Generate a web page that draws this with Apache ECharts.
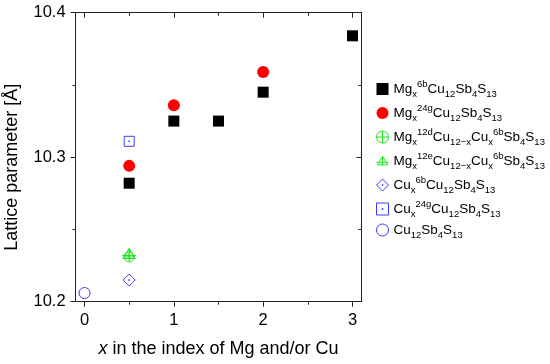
<!DOCTYPE html>
<html>
<head>
<meta charset="utf-8">
<script src="https://cdn.jsdelivr.net/npm/echarts@6/dist/echarts.min.js"></script>
<style>
html,body{margin:0;padding:0;background:#fff;}
#c{width:550px;height:364px;}
</style>
</head>
<body>
<div id="c"></div>
<script>
// Data
const mg6bX = [0.5, 1, 1.5, 2, 3];
const mg6bY = [10.282, 10.325, 10.325, 10.345, 10.384];
const mg24gX = [0.5, 1, 2];
const mg24gY = [10.294, 10.336, 10.359];
const mg12dX = [0.5];
const mg12dY = [10.231];
const mg12eX = [0.5];
const mg12eY = [10.233];
const cu6bX = [0.5];
const cu6bY = [10.215];
const cu24gX = [0.5];
const cu24gY = [10.311];
const cu12X = [0];
const cu12Y = [10.206];

const xMajorTicks = [0, 1, 2, 3];
const xMinorTicks = [0.5, 1.5, 2.5];
const yMajorTicks = [10.2, 10.3, 10.4];
const yMinorTicks = [10.25, 10.35];

const seriesNames = ['mg6b', 'mg24g', 'mg12d', 'mg12e', 'cu6b', 'cu24g', 'cu12'];
const legendLabels = {
  mg6b: '{n|Mg}{sub|x}{sup|6b}{n|Cu}{sub|12}{n|Sb}{sub|4}{n|S}{sub|13}',
  mg24g: '{n|Mg}{sub|x}{sup|24g}{n|Cu}{sub|12}{n|Sb}{sub|4}{n|S}{sub|13}',
  mg12d: '{n|Mg}{sub|x}{sup|12d}{n|Cu}{sub|12−x}{n|Cu}{sub|x}{sup|6b}{n|Sb}{sub|4}{n|S}{sub|13}',
  mg12e: '{n|Mg}{sub|x}{sup|12e}{n|Cu}{sub|12−x}{n|Cu}{sub|x}{sup|6b}{n|Sb}{sub|4}{n|S}{sub|13}',
  cu6b: '{n|Cu}{sub|x}{sup|6b}{n|Cu}{sub|12}{n|Sb}{sub|4}{n|S}{sub|13}',
  cu24g: '{n|Cu}{sub|x}{sup|24g}{n|Cu}{sub|12}{n|Sb}{sub|4}{n|S}{sub|13}',
  cu12: '{n|Cu}{sub|12}{n|Sb}{sub|4}{n|S}{sub|13}'
};

const pair = (xs, ys) => xs.map((x, i) => [x, ys[i]]);

const BLUE = '#3a3aff';
const GREEN = '#22e622';
const circlePlus = 'path://M-5,0 A5,5 0 1,0 5,0 A5,5 0 1,0 -5,0 Z M0,-5 L0,5 M-5,0 L5,0';
const trianglePlus = 'path://M0,0 L6,10 L-6,10 Z M0,0 L0,11 M-7,7 L7,7';
const diamondDot = 'path://M0,-6 L6,0 L0,6 L-6,0 Z M-0.4,-0.4 L0.4,-0.4 L0.4,0.4 L-0.4,0.4 Z';
const squareDot = 'path://M-5,-5 L5,-5 L5,5 L-5,5 Z M-0.4,-0.4 L0.4,-0.4 L0.4,0.4 L-0.4,0.4 Z';

const hollow = c => ({ color: 'rgba(0,0,0,0)', borderColor: c, borderWidth: 1, opacity: 1 });
const solid = c => ({ color: c, opacity: 1 });

const FONT = 'Liberation Sans, Arial, sans-serif';
const axisLineStyle = { color: '#222', width: 1 };

const chart = echarts.init(document.getElementById('c'), null, { renderer: 'canvas' });

const xBase = { type: 'value', min: -0.1, max: 3.1, splitLine: { show: false } };
const yBase = { type: 'value', min: 10.2, max: 10.4, splitLine: { show: false } };

const seriesDefs = [
  { name: 'mg6b', symbol: 'rect', size: 11, style: solid('#000'), x: mg6bX, y: mg6bY },
  { name: 'mg24g', symbol: 'circle', size: 12, style: solid('#ff0000'), x: mg24gX, y: mg24gY },
  { name: 'mg12d', symbol: circlePlus, size: 10, style: hollow(GREEN), x: mg12dX, y: mg12dY },
  { name: 'mg12e', symbol: trianglePlus, size: [14, 11], style: hollow(GREEN), x: mg12eX, y: mg12eY },
  { name: 'cu6b', symbol: diamondDot, size: 12, style: hollow(BLUE), x: cu6bX, y: cu6bY },
  { name: 'cu24g', symbol: squareDot, size: 10, style: hollow(BLUE), x: cu24gX, y: cu24gY },
  { name: 'cu12', symbol: 'circle', size: 11, style: hollow(BLUE), x: cu12X, y: cu12Y }
];

chart.setOption({
  animation: false,
  backgroundColor: '#fff',
  grid: { left: 75.6, right: 188.6, top: 12.7, bottom: 62.3, outerBoundsMode: 'none', containLabel: false },
  xAxis: [
    Object.assign({}, xBase, {
      position: 'bottom',
      axisLine: { show: true, onZero: false, lineStyle: axisLineStyle },
      axisTick: { show: true, customValues: xMajorTicks, length: 5, lineStyle: axisLineStyle },
      axisLabel: { show: true, customValues: xMajorTicks, color: '#000', fontSize: 16.5, fontFamily: FONT, margin: 10 },
      name: '{i|x}{t| in the index of Mg and/or Cu}',
      nameLocation: 'middle',
      nameGap: 38,
      nameTextStyle: {
        rich: {
          i: { fontStyle: 'italic', fontSize: 18, fontFamily: FONT, color: '#000' },
          t: { fontSize: 18, fontFamily: FONT, color: '#000' }
        }
      }
    }),
    Object.assign({}, xBase, {
      position: 'bottom',
      axisLine: { show: false, onZero: false },
      axisTick: { show: true, customValues: xMinorTicks, length: 3, lineStyle: axisLineStyle },
      axisLabel: { show: false }
    }),
    Object.assign({}, xBase, {
      position: 'top',
      axisLine: { show: true, onZero: false, lineStyle: axisLineStyle },
      axisTick: { show: true, inside: true, customValues: xMajorTicks, length: 5, lineStyle: axisLineStyle },
      axisLabel: { show: false }
    }),
    Object.assign({}, xBase, {
      position: 'top',
      axisLine: { show: false, onZero: false },
      axisTick: { show: true, inside: true, customValues: xMinorTicks, length: 3, lineStyle: axisLineStyle },
      axisLabel: { show: false }
    })
  ],
  yAxis: [
    Object.assign({}, yBase, {
      position: 'left',
      axisLine: { show: true, onZero: false, lineStyle: axisLineStyle },
      axisTick: { show: true, customValues: yMajorTicks, length: 5, lineStyle: axisLineStyle },
      axisLabel: {
        show: true, customValues: yMajorTicks, color: '#000', fontSize: 16.5, fontFamily: FONT, margin: 10,
        formatter: v => Number(v).toFixed(1)
      },
      name: 'Lattice parameter [Å]',
      nameLocation: 'middle',
      nameGap: 55,
      nameTextStyle: { fontSize: 18, fontFamily: FONT, color: '#000', padding: [0, 20, 0, 0] }
    }),
    Object.assign({}, yBase, {
      position: 'left',
      axisLine: { show: false, onZero: false },
      axisTick: { show: true, customValues: yMinorTicks, length: 3, lineStyle: axisLineStyle },
      axisLabel: { show: false }
    }),
    Object.assign({}, yBase, {
      position: 'right',
      axisLine: { show: true, onZero: false, lineStyle: axisLineStyle },
      axisTick: { show: true, inside: true, customValues: yMajorTicks, length: 5, lineStyle: axisLineStyle },
      axisLabel: { show: false }
    }),
    Object.assign({}, yBase, {
      position: 'right',
      axisLine: { show: false, onZero: false },
      axisTick: { show: true, inside: true, customValues: yMinorTicks, length: 3, lineStyle: axisLineStyle },
      axisLabel: { show: false }
    })
  ],
  legend: {
    orient: 'vertical',
    left: 371,
    top: 74,
    itemWidth: 12,
    itemHeight: 12,
    itemGap: 4,
    selectedMode: false,
    data: seriesDefs.map(d => ({ name: d.name, icon: d.symbol, itemStyle: d.style })),
    formatter: name => legendLabels[name],
    textStyle: {
      rich: {
        n: { fontSize: 13.5, fontFamily: FONT, color: '#000', lineHeight: 20, verticalAlign: 'middle' },
        sub: { fontSize: 9.5, fontFamily: FONT, color: '#000', lineHeight: 9, verticalAlign: 'bottom' },
        sup: { fontSize: 9.5, fontFamily: FONT, color: '#000', lineHeight: 9, verticalAlign: 'top' }
      }
    }
  },
  series: seriesDefs.map(d => ({
    name: d.name,
    type: 'scatter',
    symbol: d.symbol,
    symbolSize: d.size,
    itemStyle: d.style,
    emphasis: { disabled: true },
    data: pair(d.x, d.y),
    z: 5
  }))
});
</script>
</body>
</html>
